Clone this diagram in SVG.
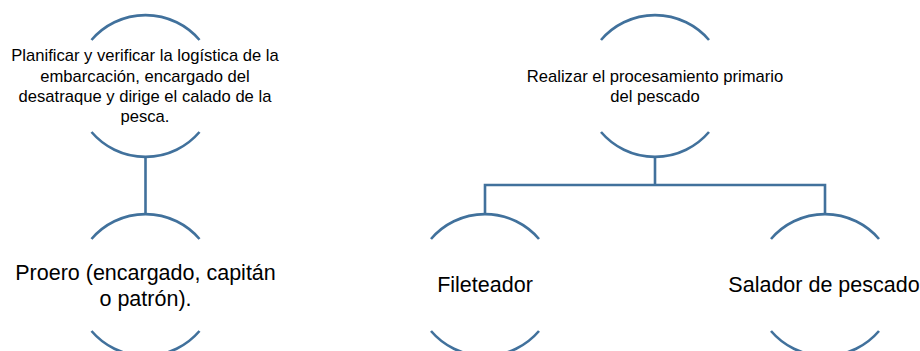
<svg xmlns="http://www.w3.org/2000/svg" width="920" height="351" viewBox="0 0 920 351">
<style>
.arc{fill:none;stroke:#41719C;stroke-width:2.6}
.conn{fill:none;stroke:#41719C;stroke-width:2.6}
.t{font-family:"Liberation Sans",Arial,sans-serif;fill:#000;text-anchor:middle}
.s{font-size:16.6px}
.l{font-size:21.5px}
</style>
<rect width="920" height="351" fill="#fff"/>
<g id="connectors">
<path class="conn" d="M145.5 157 V214"/>
<path class="conn" d="M655 157 V185 M485 214 V185 H825 V214"/>
</g>
<g id="node-planificar">
<path class="arc" d="M91.5 40 A71 71 0 0 1 199.5 40"/>
<path class="arc" d="M91.5 132 A71 71 0 0 0 199.5 132"/>
<text class="t s" x="145" y="61">Planificar y verificar la logística de la</text>
<text class="t s" x="145" y="81.5">embarcación, encargado del</text>
<text class="t s" x="145" y="101.5">desatraque y dirige el calado de la</text>
<text class="t s" x="145" y="121.5">pesca.</text>
</g>
<g id="node-realizar">
<path class="arc" d="M601 40 A71 71 0 0 1 709 40"/>
<path class="arc" d="M601 132 A71 71 0 0 0 709 132"/>
<text class="t s" x="655" y="81.5">Realizar el procesamiento primario</text>
<text class="t s" x="655" y="101.5">del pescado</text>
</g>
<g id="node-proero">
<path class="arc" d="M91.5 239 A71 71 0 0 1 199.5 239"/>
<path class="arc" d="M91.5 331 A71 71 0 0 0 199.5 331"/>
<text class="t l" x="145.5" y="280">Proero (encargado, capitán</text>
<text class="t l" x="145.5" y="306">o patrón).</text>
</g>
<g id="node-fileteador">
<path class="arc" d="M431 239 A71 71 0 0 1 539 239"/>
<path class="arc" d="M431 331 A71 71 0 0 0 539 331"/>
<text class="t l" x="485" y="292">Fileteador</text>
</g>
<g id="node-salador">
<path class="arc" d="M771 239 A71 71 0 0 1 879 239"/>
<path class="arc" d="M771 331 A71 71 0 0 0 879 331"/>
<text class="t l" x="824" y="292">Salador de pescado</text>
</g>
</svg>
